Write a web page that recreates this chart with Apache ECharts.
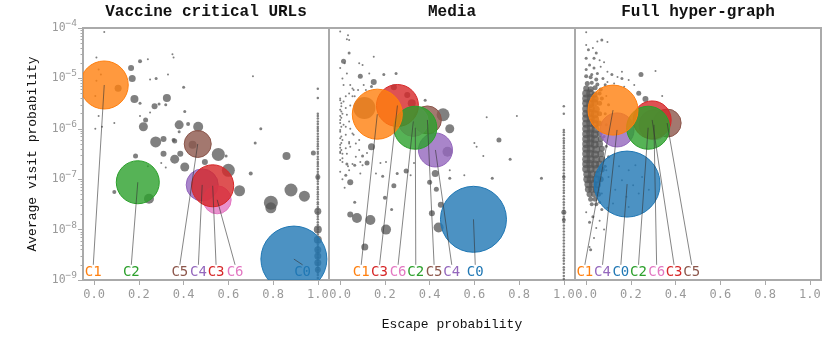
<!DOCTYPE html>
<html><head><meta charset="utf-8">
<script src="https://cdn.jsdelivr.net/npm/echarts@6/dist/echarts.min.js"></script>
<style>html,body{margin:0;padding:0;background:#fff}#c{width:830px;height:343px}</style>
</head><body><div id="c"></div>
<script>
// ---------- data ----------
const panelTitles = ['Vaccine critical URLs', 'Media', 'Full hyper-graph'];
const xTickValues = [0, 0.2, 0.4, 0.6, 0.8, 1.0];
const yTickValues = [1e-9, 1e-8, 1e-7, 1e-6, 1e-5, 1e-4];
const xAxisTitle = 'Escape probability';
const yAxisTitle = 'Average visit probability';

// clusters: [name, escape probability, visit probability, cluster size]
const vaccineClusters = [['C0',0.893,2.6e-9,66],['C4',0.483,7.7e-8,32],['C5',0.463,5.0e-7,27],['C6',0.55,3.9e-8,28],['C3',0.53,7.4e-8,42],['C2',0.195,8.7e-8,43],['C1',0.045,7.4e-6,48]];
const mediaClusters = [['C0',0.596,1.6e-8,66],['C4',0.426,3.8e-7,34],['C5',0.39,1.5e-6,28],['C6',0.327,1.4e-6,30],['C3',0.256,2.9e-6,42],['C2',0.336,1.05e-6,43],['C1',0.166,1.95e-6,50]];
const hyperClusters = [['C0',0.183,8.0e-8,66],['C4',0.138,9.5e-7,34],['C5',0.362,1.3e-6,28],['C6',0.303,1.2e-6,30],['C3',0.295,1.5e-6,38],['C2',0.277,1.05e-6,43],['C1',0.12,2.35e-6,50]];

// annotation label x positions (same order as clusters)
const vaccineLabelX = [0.932, 0.466, 0.383, 0.63, 0.545, 0.166, -0.004];
const mediaLabelX = [0.604, 0.499, 0.42, 0.259, 0.176, 0.338, 0.094];
const hyperLabelX = [0.155, 0.073, 0.472, 0.315, 0.393, 0.234, -0.006];
const labelY = 1.41e-9;
const labelTopY = 2.0e-9;

// individual URLs: [escape probability, visit probability, size]
const vaccineGray = [
[0.045,8.3e-5,2],[0.01,2.6e-5,2],[0.205,2.2e-5,4],[0.24,2.4e-5,2],[0.35,3.0e-5,2],[0.355,2.6e-5,2],
[0.165,1.6e-5,6],[0.17,1.0e-5,7],[0.25,9.5e-6,2],[0.277,1.0e-5,3],[0.33,1.2e-5,2],[0.71,1.1e-5,2],
[0.107,6.4e-6,7],[0.40,6.7e-6,3],[0.18,3.9e-6,8],[0.325,4.1e-6,8],[0.205,3.2e-6,3],[0.27,2.8e-6,6],
[0.29,3.1e-6,3],[0.32,3.0e-6,3],[0.405,2.2e-6,3],[0.25,2.1e-6,2],[0.205,1.8e-6,2],[0.23,1.5e-6,5],
[0.02,1.8e-6,2],[0.09,1.3e-6,2],[0.035,1.1e-6,2],[0.005,1.0e-6,2],[0.22,1.1e-6,9],[0.38,1.2e-6,9],
[0.42,1.25e-6,4],[0.465,1.1e-6,10],[0.38,8.7e-7,3],[0.745,1.0e-6,3],[0.275,5.5e-7,11],[0.31,6.3e-7,6],
[0.36,5.7e-7,5],[0.44,4.8e-7,8],[0.72,5.2e-7,3],[0.31,3.2e-7,6],[0.385,3.2e-7,6],[0.555,3.1e-7,13],
[0.86,2.9e-7,8],[0.98,3.3e-7,5],[0.185,2.9e-7,5],[0.36,2.5e-7,9],[0.30,2.1e-7,2],[0.32,1.7e-7,2],
[0.405,1.75e-7,9],[0.495,2.2e-7,6],[0.59,2.9e-7,3],[0.60,1.5e-7,13],[0.70,1.3e-7,4],
[0.65,5.9e-8,11],[0.88,6.1e-8,13],[0.94,4.6e-8,11],[0.79,3.4e-8,14],[0.79,2.7e-8,11],[0.09,5.6e-8,4],
[0.245,4.1e-8,10],[0.24,1.8e-7,2],[0.02,1.5e-5,2],[0.03,1.2e-5,2],[0.01,9e-6,2],[0.005,4.5e-6,2],[0.355,6e-7,4]
];
const vaccineEdgeY = [6.2e-6,4.1e-6,2.0e-6,1.8e-6,1.6e-6,1.4e-6,1.25e-6,1.1e-6,1.0e-6,9e-7,8e-7,7e-7,6.3e-7,5.6e-7,5e-7,4.5e-7,4e-7,3.5e-7,3.2e-7,2.8e-7,2.5e-7,2.2e-7,2e-7,1.8e-7,1.6e-7,1.4e-7,1.25e-7,1.1e-7,1e-7,9e-8,8e-8,7e-8,6.3e-8,5.6e-8,5e-8,4.5e-8,4e-8,3.5e-8,3.2e-8,2.8e-8,2.5e-8,2.2e-8,2e-8,1.8e-8,1.6e-8,1.4e-8,1.25e-8,1.1e-8,1e-8,9e-9,8e-9,7e-9,6.3e-9,5.6e-9,5e-9,4.5e-9,4e-9,3.5e-9,3.2e-9,2.8e-9,2.5e-9,2.2e-9,2e-9,1.8e-9,1.6e-9,1.4e-9,1.25e-9,1.1e-9];
const vaccineEdgeBig = [[1.0,1.1e-7,5],[1.0,2.3e-8,7],[1.0,1.0e-8,8],[1.0,6.3e-9,8],[1.0,4.0e-9,7],[1.0,3.0e-9,7],[1.0,2.2e-9,7],[1.0,1.6e-9,6]];

const mediaGray = [
[0.0,8.5e-5,2],[0.035,7.2e-5,2],[0.04,5.8e-5,2],[0.03,6.0e-5,2],[0.04,3.2e-5,3],[0.015,2.2e-5,5],[0.02,2.0e-5,2],[0.085,2.0e-5,2],[0.1,1.85e-5,2],[0.15,2.7e-5,2],
[0.0,1.6e-5,2],[0.03,1.25e-5,2],[0.09,1.1e-5,5],[0.13,1.25e-5,2],[0.195,1.2e-5,3],[0.25,1.25e-5,3],[0.15,8.5e-6,6],[0.14,6.9e-6,3],[0.01,1.0e-5,2],[0.015,7.4e-6,2],
[0.045,7.4e-6,2],[0.055,6.3e-6,2],[0.06,5.9e-6,2],[0.105,7.4e-6,2],[0.115,5.9e-6,2],[0.04,5.0e-6,2],[0.025,4.4e-6,2],[0.055,4.4e-6,2],[0.0,3.7e-6,2],[0.015,3.5e-6,2],
[0.005,2.8e-6,2],[0.025,2.6e-6,2],[0.045,2.9e-6,2],[0.01,2.0e-6,2],[0.03,1.9e-6,2],[0.0,1.5e-6,2],[0.04,1.4e-6,2],[0.015,1.2e-6,2],[0.045,1.0e-6,2],[0.0,8.7e-7,2],
[0.025,7.6e-7,2],[0.01,6.0e-7,2],[0.04,5.5e-7,2],[0.06,7.6e-7,2],[0.0,4.8e-7,2],[0.025,4.1e-7,2],[0.045,4.4e-7,2],[0.07,5.1e-7,2],[0.0,3.5e-7,2],[0.03,3.2e-7,2],[0.085,3.8e-7,2],
[0.0,4.0e-6,2],[0.005,3.2e-6,2],[0.0,2.4e-6,2],[0.005,2.2e-6,2],[0.0,1.8e-6,2],[0.005,1.65e-6,2],[0.0,1.3e-6,2],[0.005,1.1e-6,2],[0.0,9.5e-7,2],[0.005,7e-7,2],
[0.0,6.5e-7,2],[0.005,5.2e-7,2],[0.0,4.2e-7,2],[0.005,3.8e-7,2],[0.01,2.6e-7,2],[0.0,2.4e-7,2],
[0.025,1.1e-6,2],[0.055,8.1e-7,2],[0.085,6e-7,2],[0.04,5.1e-7,2],[0.01,3.2e-7,2],[0.07,2.8e-7,2],[0.1,1.9e-7,2],[0.035,1.8e-7,2],[0.065,4.4e-6,2],[0.08,5.9e-6,2],
[0.108,2.6e-6,22],[0.24,6.7e-6,6],[0.30,4.7e-6,6],[0.32,3.2e-6,8],[0.38,3.7e-6,3],[0.46,1.9e-6,13],[0.49,1.0e-6,9],[0.48,3.5e-7,10],[0.14,4.4e-7,7],[0.12,2.1e-7,5],
[0.655,1.7e-6,2],[0.79,1.8e-6,2],[0.71,6.0e-7,5],[0.6,5.2e-7,2],[0.61,4.4e-7,2],[0.64,2.9e-7,2],[0.76,2.5e-7,3],
[0.045,8.7e-8,6],[0.065,3.5e-8,3],[0.045,2.0e-8,6],[0.075,1.7e-8,10],[0.135,1.55e-8,10],[0.205,1.0e-8,10],[0.11,4.5e-9,7],[0.19,1.15e-7,3],[0.20,4.3e-8,4],[0.23,2.5e-8,3],
[0.24,7.4e-8,5],[0.255,1.3e-7,3],[0.295,1.45e-7,5],[0.315,1.2e-7,2],[0.33,2.1e-7,2],[0.425,1.3e-7,7],[0.40,8.7e-8,5],[0.43,6.3e-8,5],[0.49,1.05e-7,3],[0.49,1.5e-7,2],
[0.45,3.1e-8,6],[0.41,2.1e-8,6],[0.44,1.1e-8,10],[0.555,1.2e-7,2],[0.68,1.05e-7,3],[0.90,1.05e-7,3],
[0.0,3.3e-7,2],[0.01,2.2e-7,2],[0.03,2.0e-7,3],[0.055,2.0e-7,2],[0.065,1.9e-7,3],[0.09,2.2e-7,2],[0.1,2.9e-7,3],[0.12,3.3e-7,2],[0.0,1.4e-7,2],[0.025,1.2e-7,3],
[0.04,1.5e-7,2],[0.01,1.0e-7,2],[0.02,6.8e-8,2],[0.09,1.3e-7,2],[0.16,1.3e-7,2],[0.18,2.1e-7,2],[0.205,2.2e-7,2]
];
const mediaEdgeY = [2.8e-6,2.0e-6,9.5e-7,8.5e-7,7.5e-7,6.5e-7,5.8e-7,5.2e-7,4.6e-7,4.1e-7,3.6e-7,3.2e-7,2.8e-7,2.5e-7,2.2e-7,1.95e-7,1.7e-7,1.5e-7,1.3e-7,1.15e-7,1e-7,8.8e-8,7.7e-8,6.8e-8,6e-8,5.3e-8,4.6e-8,4e-8,3.5e-8,3.1e-8,2.7e-8,2.4e-8,2.1e-8,1.8e-8,1.6e-8,1.4e-8,1.2e-8,1.05e-8,9.2e-9,8e-9,7e-9,6.1e-9,5.3e-9,4.6e-9,4e-9,3.5e-9,3.1e-9,2.7e-9,2.4e-9,2.1e-9,1.8e-9,1.6e-9,1.4e-9,1.2e-9,1.05e-9];
const mediaEdgeBig = [[1.0,2.2e-8,5],[1.0,1.55e-8,4],[1.0,1.1e-7,3.5]];

const hyperGray = [
[0.0,1.1e-5,4],[0.02,1.05e-5,4],[0.045,9.5e-6,4],[0.075,1.0e-5,3],
[0.005,7.9e-6,5],[0.025,8.2e-6,4],[0.05,7.6e-6,4],[0.085,7.5e-6,3],
[0.0,6.3e-6,6],[0.02,6.1e-6,6],[0.04,6.5e-6,5],[0.065,6.0e-6,4],
[0.0,5.0e-6,8],[0.018,5.1e-6,8],[0.038,4.8e-6,6],[0.06,5.0e-6,4],
[0.0,4.0e-6,8],[0.02,4.1e-6,8],[0.04,3.9e-6,7],[0.07,4.0e-6,4],
[0.0,3.2e-6,8],[0.018,3.1e-6,8],[0.038,3.3e-6,7],[0.06,3.2e-6,5],
[0.0,2.5e-6,8],[0.02,2.55e-6,8],[0.045,2.45e-6,7],
[0.0,2.0e-6,8],[0.018,2.05e-6,8],[0.038,1.95e-6,8],[0.06,2.0e-6,5],
[0.0,1.6e-6,8],[0.02,1.6e-6,8],[0.04,1.55e-6,8],
[0.0,1.26e-6,8],[0.018,1.3e-6,8],[0.038,1.25e-6,8],[0.058,1.28e-6,6],
[0.0,1.0e-6,8],[0.02,1.0e-6,8],[0.042,9.8e-7,8],
[0.0,7.9e-7,8],[0.018,8.1e-7,8],[0.038,7.8e-7,8],[0.06,8.0e-7,6],
[0.0,6.3e-7,8],[0.02,6.4e-7,8],[0.04,6.2e-7,8],[0.065,6.3e-7,6],
[0.0,5.0e-7,8],[0.018,5.1e-7,8],[0.038,4.9e-7,8],[0.06,5.0e-7,7],
[0.0,4.0e-7,8],[0.02,4.0e-7,8],[0.045,3.9e-7,8],[0.07,4.0e-7,6],
[0.0,3.2e-7,8],[0.018,3.2e-7,8],[0.04,3.1e-7,8],[0.065,3.2e-7,7],
[0.0,2.5e-7,8],[0.02,2.5e-7,8],[0.045,2.5e-7,8],[0.07,2.5e-7,7],
[0.0,2.0e-7,8],[0.018,2.0e-7,8],[0.04,1.95e-7,8],[0.06,2.0e-7,7],
[0.0,1.6e-7,8],[0.02,1.6e-7,8],[0.045,1.6e-7,8],[0.07,1.55e-7,6],
[0.005,1.26e-7,8],[0.025,1.26e-7,8],[0.05,1.25e-7,7],
[0.005,1.0e-7,8],[0.02,1.0e-7,8],[0.045,1.0e-7,8],[0.065,1.0e-7,6],
[0.01,7.9e-8,8],[0.03,8.0e-8,8],[0.05,7.8e-8,7],
[0.01,6.3e-8,7],[0.025,6.3e-8,7],[0.045,6.2e-8,7],
[0.015,5.0e-8,6],[0.035,5.0e-8,6],[0.055,5.0e-8,5],
[0.02,4.0e-8,5],[0.04,4.0e-8,5],
[0.025,3.2e-8,4],[0.045,3.2e-8,4],
[0.0,8.2e-5,2],[0.05,5.4e-5,2],[0.07,5.8e-5,3],[0.095,5.3e-5,2],[0.0,4.6e-5,2],[0.01,3.7e-5,3],[0.03,4.0e-5,2],[0.045,3.2e-5,3],[0.035,2.5e-5,3],[0.0,2.5e-5,3],
[0.06,2.3e-5,2],[0.08,2.1e-5,2],[0.015,1.85e-5,3],[0.0,1.5e-5,3],[0.035,1.6e-5,3],[0.065,1.7e-5,2],[0.095,1.35e-5,2],[0.05,1.25e-5,3],[0.025,1.2e-5,3],[0.115,1.2e-5,3],
[0.14,1.07e-5,2],[0.16,1.35e-5,2],[0.19,9.3e-6,2],[0.245,1.2e-5,5],[0.215,7.4e-6,2],[0.17,6.8e-6,2],[0.125,7.9e-6,2],[0.095,8.5e-6,2],[0.265,3.9e-6,6],[0.235,5.1e-6,5],
[0.31,1.4e-5,2],[0.34,4.5e-6,2],[0.09,4.5e-6,2],[0.1,3e-6,3],[0.085,2e-6,3],[0.09,1.2e-6,3],[0.08,7e-7,3],[0.09,4.5e-7,3],[0.1,2.8e-7,3],[0.085,1.8e-7,3],[0.16,1.0e-5,3],
[0.0,2.2e-8,2],[0.03,1.8e-8,3],[0.06,1.5e-8,2],[0.095,2.7e-8,2],[0.08,1.0e-8,2],[0.035,6.8e-9,2],[0.015,4.5e-9,2],[0.02,4.0e-9,3],[0.045,1.07e-8,2],[0.015,1.4e-8,3],
[0.07,2.5e-8,3],[0.06,3.5e-8,3],
[0.147,1.8e-7,2],[0.19,1.5e-7,2],[0.22,1.9e-7,2],[0.10,1.1e-7,2],[0.16,9.5e-8,2],[0.21,7.6e-8,2],[0.25,1.1e-7,2],[0.13,6.2e-8,2],[0.18,4.5e-8,2],[0.235,5.2e-8,2],
[0.12,3.3e-8,2],[0.19,2.8e-8,2],[0.28,6.2e-8,2],[0.07,5.2e-8,2],[0.09,1.5e-7,2]
];

// ---------- rendering ----------
const colorOf = {C0:'#1f77b4',C1:'#ff7f0e',C2:'#2ca02c',C3:'#d62728',C4:'#9467bd',C5:'#8c564b',C6:'#e377c2'};
function rgba(hex, a){const n=parseInt(hex.slice(1),16);return 'rgba('+(n>>16)+','+((n>>8)&255)+','+(n&255)+','+a+')';}
const MONO = '"DejaVu Sans Mono", monospace';
const TYPE = '"Liberation Mono", "DejaVu Sans Mono", monospace';

const panels = [
  {clusters: vaccineClusters, labelX: vaccineLabelX, gray: vaccineGray.concat(vaccineEdgeY.map(y=>[1.0,y,2.5]), vaccineEdgeBig)},
  {clusters: mediaClusters, labelX: mediaLabelX, gray: mediaGray.concat(mediaEdgeY.map(y=>[1.0,y,2.5]), mediaEdgeBig)},
  {clusters: hyperClusters, labelX: hyperLabelX, gray: hyperGray}
];

const gridLeft = [83, 329, 575];
const grids = gridLeft.map(l => ({left: l, top: 28, width: 246, height: 252, show: true, borderColor: '#aaa', borderWidth: 2, backgroundColor: 'transparent'}));

const xAxes = gridLeft.map((l, i) => ({
  type: 'value', gridIndex: i, min: -0.05, max: 1.05, position: 'bottom',
  axisLine: {show: false, onZero: false}, splitLine: {show: false},
  axisTick: {show: true, customValues: xTickValues, length: 5, lineStyle: {color: '#aaa', width: 1}},
  axisLabel: {customValues: xTickValues, formatter: v => v.toFixed(1), color: '#999', fontFamily: MONO, fontSize: 12, margin: 9},
  name: i === 1 ? xAxisTitle : '', nameLocation: 'middle', nameGap: 38,
  nameTextStyle: {fontFamily: TYPE, fontSize: 13, color: '#111'}
}));

const minorY = [];
for (let k = -9; k < -4; k++) for (let m = 2; m <= 9; m++) minorY.push(m * Math.pow(10, k));

const yAxes = gridLeft.map((l, i) => ({
  type: 'log', logBase: 10, gridIndex: i, min: 1e-9, max: 1e-4, position: 'left',
  axisLine: {show: false, onZero: false}, splitLine: {show: false}, minorSplitLine: {show: false},
  axisTick: {show: i === 0, customValues: yTickValues, length: 5, lineStyle: {color: '#aaa'}},
  axisLabel: {show: i === 0, customValues: yTickValues, margin: 6,
    formatter: v => '{b|10}{s|\u2212' + Math.round(-Math.log10(v)) + '}',
    rich: {b: {fontFamily: MONO, fontSize: 11.5, color: '#999', lineHeight: 13},
           s: {fontFamily: MONO, fontSize: 9.5, color: '#999', lineHeight: 13, padding: [0,0,9,0]}}},
  name: i === 0 ? yAxisTitle : '', nameLocation: 'middle', nameGap: 44, nameRotate: 90,
  nameTextStyle: {fontFamily: TYPE, fontSize: 13, color: '#111'}
}));
yAxes.push({
  type: 'log', logBase: 10, gridIndex: 0, min: 1e-9, max: 1e-4, position: 'left', offset: 0,
  axisLine: {show: false, onZero: false}, splitLine: {show: false}, axisLabel: {show: false},
  axisTick: {show: true, customValues: minorY, length: 2.5, lineStyle: {color: '#aaa'}}
});

const series = [];
panels.forEach((p, i) => {
  series.push({
    type: 'scatter', xAxisIndex: i, yAxisIndex: i, z: 1, silent: true,
    data: p.gray, symbolSize: d => d[2],
    itemStyle: {color: '#555', opacity: 0.75}
  });
  series.push({
    type: 'custom', xAxisIndex: i, yAxisIndex: i, z: 2, clip: true, silent: true,
    data: p.clusters.map(c => [c[1], c[2]]), encode: {x: 0, y: 1},
    renderItem: (params, api) => {
      const c = p.clusters[params.dataIndex];
      const pt = api.coord([c[1], c[2]]);
      const col = colorOf[c[0]];
      return {type: 'circle', shape: {cx: pt[0], cy: pt[1], r: c[3] / 2},
              style: {fill: rgba(col, 0.8), stroke: col, lineWidth: 1}};
    }
  });
  series.push({
    type: 'custom', xAxisIndex: i, yAxisIndex: i, z: 3, clip: true, silent: true,
    data: p.clusters.map(c => [c[1], c[2]]), encode: {x: 0, y: 1},
    renderItem: (params, api) => {
      const c = p.clusters[params.dataIndex];
      const a = api.coord([c[1], c[2]]);
      const b = api.coord([p.labelX[params.dataIndex], labelTopY]);
      const t = api.coord([p.labelX[params.dataIndex], labelY]);
      return {type: 'group', children: [
        {type: 'line', shape: {x1: a[0], y1: a[1], x2: b[0], y2: b[1]}, style: {stroke: '#333', lineWidth: 0.6}},
        {type: 'text', x: t[0], y: t[1], style: {text: c[0], fill: colorOf[c[0]], font: '14px ' + MONO, align: 'center', verticalAlign: 'middle'}}
      ]};
    }
  });
});

const chart = echarts.init(document.getElementById('c'), null, {renderer: 'canvas'});
chart.setOption({
  animation: false,
  backgroundColor: '#fff',
  title: panelTitles.map((t, i) => ({text: t, left: gridLeft[i] + 123, top: 4, padding: 0, textAlign: 'center',
    textStyle: {fontFamily: TYPE, fontSize: 16, fontWeight: 'bold', color: '#111'}})),
  grid: grids, xAxis: xAxes, yAxis: yAxes, series: series
});
</script></body></html>
